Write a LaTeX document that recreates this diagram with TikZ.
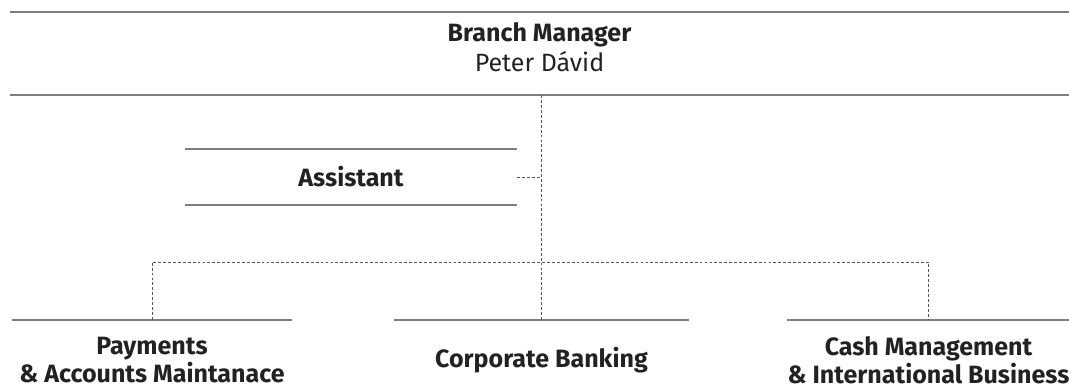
\documentclass[tikz,border=0pt]{standalone}
\usepackage{fontspec}
\setmainfont{Fira Sans}

\definecolor{ruleGrey}{HTML}{7F7F7F}
\definecolor{linkGrey}{HTML}{555555}
\definecolor{textDark}{HTML}{222222}

\def\px{0.025cm}
\def\unitFont{\fontsize{17.8}{20}\selectfont}

\tikzset{
  unit/.style={inner sep=0pt, text=textDark, font=\unitFont, align=center},
  rule/.style={draw=ruleGrey, line width=1.4pt},
  link/.style={draw=linkGrey, line width=0.6pt, dash pattern=on 2pt off 1.5pt},
}

\begin{document}
\begin{tikzpicture}[x=\px, y=-\px]
  \useasboundingbox (0,0) rectangle (1069,392);
  %% boxes
  \node [unit, minimum width=1059*\px, minimum height=83*\px,
    label={[unit, yshift=6.5*\px]center:{\bfseries Branch Manager}\\[1.5pt]Peter Dávid}]
    (mgr) at (539.5,53.5) {};
  \node [unit, minimum width=332*\px, minimum height=56*\px]
    (asst) at (351,177) {\bfseries Assistant};
  \node [unit, minimum width=280*\px, minimum height=80*\px]
    (pay) at (152,360) {\bfseries Payments\\\bfseries\&~Accounts Maintanace};
  \node [unit, minimum width=295*\px, minimum height=80*\px]
    (corp) at (541.5,360) {\bfseries Corporate Banking};
  \node [unit, minimum width=281*\px, minimum height=80*\px]
    (cash) at (928.5,360) {\bfseries Cash Management\\\bfseries\&~International Business};
  %% rules
  \foreach \n in {mgr,asst,pay,corp,cash} {
    \draw [rule] (\n.north west) -- (\n.north east);
  }
  \foreach \n in {mgr,asst} {
    \draw [rule] (\n.south west) -- (\n.south east);
  }
  %% links
  \coordinate (bus) at (541,262);
  \draw [link] (corp.north |- mgr.south) -- (corp.north);
  \draw [link] (asst.east) -- (asst.east -| corp.north);
  \draw [link] (pay.north) |- (bus) -| (cash.north);
\end{tikzpicture}
\end{document}
